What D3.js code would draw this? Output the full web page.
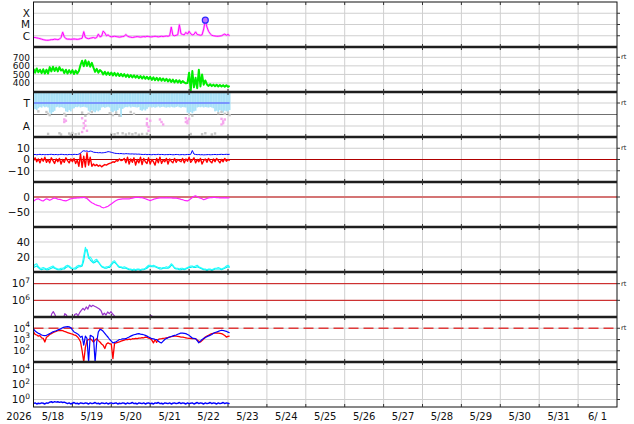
<!DOCTYPE html>
<html><head><meta charset="utf-8">
<script src="https://cdn.jsdelivr.net/npm/d3@7"></script>
<style>
body{margin:0;background:#fff}
svg{display:block}
text{font-family:'DejaVu Sans',sans-serif;fill:#111}
</style></head>
<body><svg id="c" width="634" height="424"></svg>
<script>
// ---------------- DATA (hourly samples from 2026-05-18 00:00 to 05-23 01:00) ----------------
const xrayFlux = [7e-7,7e-7,6.5e-7,6e-7,5.5e-7,5e-7,
 4.5e-7,4.2e-7,4e-7,4e-7,4.2e-7,4.5e-7,4.5e-7,5e-7,4.8e-7,4.5e-7,5e-7,7e-7,
 2.1e-6,8e-7,
 5.5e-7,5e-7,5e-7,4.8e-7,5e-7,5.2e-7,5e-7,4.8e-7,5e-7,5.5e-7,6e-7,
 2.3e-6,7e-7,
 6e-7,5.5e-7,6e-7,6.5e-7,7e-7,6e-7,7e-7,
 1.4e-6,8e-7,9e-7,2.6e-6,1.8e-6,1e-6,1.2e-6,9e-7,
 8e-7,8.5e-7,9e-7,8.5e-7,8e-7,7.5e-7,8e-7,8.5e-7,9e-7,
 1.3e-6,9e-7,
 8e-7,7.5e-7,7e-7,7.5e-7,8e-7,8.5e-7,8e-7,7.5e-7,8e-7,8.5e-7,8e-7,
 9e-7,8.5e-7,8e-7,8e-7,8.5e-7,9e-7,8.5e-7,8e-7,8.5e-7,9e-7,8.5e-7,9e-7,9.5e-7,9e-7,
 1e-6,5.9e-6,1.1e-6,1e-6,1.1e-6,1.2e-6,9.6e-6,1.5e-6,1.3e-6,1.2e-6,2e-6,1.4e-6,2.5e-6,1.5e-6,1.2e-6,1.3e-6,
 2.2e-6,1.3e-6,1.2e-6,1.1e-6,1.2e-6,4e-6,2.4e-5,6e-6,2.5e-6,1.5e-6,1.1e-6,1e-6,9.5e-7,9e-7,9e-7,9.5e-7,
 1e-6,1.2e-6,1.4e-6,1.1e-6,1.3e-6,1e-6];

const windSpeed = [565,520,570,525,555,515,560,510,555,510,
 585,535,590,540,580,535,585,545,
 560,515,555,510,550,515,550,505,545,510,540,
 610,660,595,
 665,600,650,590,635,
 580,530,565,520,550,
 535,500,532,496,524,494,
 522,488,518,484,514,481,508,478,
 503,472,498,467,493,465,489,462,485,457,
 481,452,478,449,473,445,
 471,437,465,432,461,429,458,427,453,425,449,419,
 443,412,439,407,435,405,431,402,422,
 407,396,
 400,520,310,540,350,460,340,555,360,500,380,430,
 383,366,385,364,381,362,379,360,377,359,375,356,373,355,366];

// IMF sector panel: lower edge of the dense phi band (deg), hourly
const phiLow = [220,225,215,230, 240,235,245,238,242,236, 195,185,200,210, 238,242,235,240,236,230,
 205,200,215,205,225,230, 240,238,244,236,240,242,238,235, 210,200,215,205,198,212,205,215,
 236,240,234,238,242,236, 205,198,210,202,215, 230,160,225,235, 240,238,244,236,242,240,238,236,240,
 215,210,220,212,225,
 238,242,236,240,235,238,244,236,240,242,238,235,240,236,242,238,236,240,244,238,235,240,238,236,
 195,185,200,190,205,210, 236,240,238,242,236,240,238,235,240,236,230,
 205,210,200,215,205,195,210,205,200,215];
const phiGrayPts = [[9,25],[16,30],[17,20],[22,28],[23,18],[24,32],[26,22],[28,26],[48,24],[55,30],[57,20],
 [59,28],[61,22],[63,30],[65,18],[70,26],[97,24],[106,30],[110,20],[112,28],[50,22],[52,30],[67,24],[104,22],
 [8,200],[9,185],[10,175],[19,185],[20,170],[30,195],[32,170],[34,185],[36,200],[47,190],[49,175],
 [51,195],[60,200],[62,185],[96,180],[98,170],[114,190],[116,200],[118,185],[120,195],[121,175],[3,205],[53,170]];
const phiPinkPts = [[19,140],[19,120],[20,130],[30,150],[31,110],[31,70],[32,130],[32,90],[33,50],[30,40],
 [70,145],[70,110],[71,80],[71,50],[72,130],[70,95],[78,140],[79,120],[80,100],[94,150],[95,130],[95,110],
 [96,145],[94,120],[116,145],[117,125],[117,110],[118,140],[116,100]];

const bt = [4.3,4.5,4.2,4.4,4.6,4.3,4.5,4.2,4.4,4.3,4.5,4.6,4.4,4.3,4.5,4.2,4.4,4.6,4.5,4.3,4.4,4.2,4.5,4.4,4.3,4.6,4.5,4.4,
 4.8,5.5, 7.2,7.8,7.4,7.6,7.0,7.5,7.2, 6.5,6.3,6.2,6.0,6.1,5.9,6.0,6.2,6.5, 7.0,6.8,6.4,6.0,5.6,
 5.4,5.3,5.2,5.3,5.1,5.0,5.2,5.1,5.0,4.9,5.0,4.8,4.9,4.7,4.8,4.6,
 4.5,4.4,4.6,4.3,4.5,4.4,4.2,4.5,4.3,4.4,4.6,4.3,4.5,4.4,4.2,4.4,4.3,4.5,4.4,4.2,4.3,4.5,4.4,4.2,4.3,4.4,4.2,4.3,4.5,4.4,4.6,
 8.0,
 4.8,4.5,4.3,4.4,4.2,4.3,4.1,4.2,4.3,4.4,4.2,4.3,4.4,4.5,4.3,4.4,4.5,4.6,4.4,4.5,4.6,4.5,4.6];
const bz = [-1,1.5,-2,0.5,-3,1,-1.5,2,-2.5,0,-3,1.5,-1,-3.5,0.5,-2,1,-4,0,-2.5,1.5,-1,-3,0.5,-2,1,-3.5,-0.5,
 -6,5,-7,3,-6.5,6,-5,2,-6,
 -4,-5.5,-4.5,-6,-5,-6.5,-5.5,-4.5,-5,-4,-3.5,
 -3,-2,-2.5,-1,-1.5,0.5,-1,-0.5,
 1,-3,2,-4,0.5,-2.5,1.5,-5,0,-3,2,-4.5,1,-2,-3.5,1.5,-4,0,-2,-5,1,-3,2,-3.5,-0.5,-2,1,-4,0.5,-1.5,-3,1,-2.5,0,-1,
 -2,1,-3,0.5,-1.5,2,-2.5,-0.5,1.5,-3,0,-2,1,-4,-1,0.5,-2.5,1,-1.5,-3,0.5,-2,1,-1,-3,0,-2,1,-1.5,0,-1];

const dst = [-14,-10,-7,-6,-9,-12,-13,-9,-6,-8,-11,-8,-5,-3,-5,-7,-8,-9,-11,-12,-13,-11,-8,-6,-5,-4,-4,-3,-3,-2,
 -2,-1,-3,-5,-10,-15,-19,-22,-25,-27,-29,-30,-34,-36,-35,-33,-31,-27,-23,-19,-15,-12,-9,-8,-7,-6,-6,-6,-6,-6,
 -5,-4,-2,-1,-1,-1,-2,-2,-4,-6,-8,-10,-12,-10,-8,-6,-5,-4,-3,-3,-3,-3,-2,-3,-3,-3,-4,-4,-4,-5,
 -6,-8,-9,-11,-12,-13,-10,-6,-2,2,4,1,-2,-4,-6,-9,-7,-5,-3,-2,-2,-1,-1,-2,-2,-3,-3,-3,-2,-3,-3,-2];

const densA = [8,10,11,7,5,5,6,5,4,5,6,7,8,6,5,4,4,5,5,6,8,9,8,6,5,5,6,8,9,8,10,22,33,27,18,20,17,13,16,17,
 14,11,8,7,6,7,7,8,11,14,15,12,9,7,7,6,7,6,5,4,4,3,4,3,4,4,3,4,4,5,7,9,9,8,9,8,7,6,6,5,
 6,6,7,6,8,11,9,6,5,5,4,5,5,4,5,6,7,8,8,7,8,9,7,6,5,4,4,3,4,4,3,4,5,5,6,5,4,5,6,8,9,7];
const densB = [6,7,8,6,4,3,4,4,3,3,4,5,6,5,4,3,3,3,4,4,6,7,7,5,4,4,4,6,7,7,8,15,29,30,21,16,14,12,13,15,
 13,10,7,6,5,5,6,6,9,12,13,11,8,6,6,5,5,5,4,3,3,2,3,2,3,3,2,3,3,4,5,7,8,7,7,7,6,5,4,4,
 5,5,5,5,6,9,8,5,4,4,3,3,4,3,4,5,6,6,7,6,6,7,6,5,4,3,3,2,3,3,2,3,4,4,4,4,3,4,5,6,7,6];

// log10 of particle fluxes
const fluxP7log = [4.7,4.7,4.7,4.7,4.7,4.7,4.7,4.7,4.7,4.7,4.7,
 5.18,5.32,5.15,4.85,4.8,4.8,4.8,4.85,5.2,5.12,4.85,4.8,4.8,4.85,5.15,5.2,5.08,5.26,5.4,5.52,5.42,5.6,5.48,5.72,5.62,5.7,5.65,5.6,5.54,5.48,
 5.38,5.12,5.23,5.12,5.3,5.2,5.32,5.18,5.08,4.9,
 4.8,4.8,4.8,4.8,4.8,4.8,4.8,4.8,4.8,4.8,4.8,4.8,4.8,4.8,4.8,4.8,4.8,4.8,4.8,4.8,
 5.1,5.05,4.85,4.8,4.8,4.8,4.8,4.8,4.8,4.8,4.8,4.8,4.8,4.8,4.8,4.8,4.8,4.8,4.8,4.8,4.8,4.8,4.8,4.8,4.8,4.8,4.8,4.8,4.8,
 5.02,4.85,4.8,4.8,4.8,4.8,4.8,4.8,4.8,4.8,4.8,4.8,4.8,4.8,4.8,4.8,4.8,4.8,4.8,4.8];
const fluxBlueLog = [3.95,3.75,3.65,3.55,3.5,3.4,3.37,3.35,3.37,3.45,3.52,3.6,3.68,3.73,3.78,3.85,3.9,3.97,4.05,4.1,
 4.13,4.15,4.12,4.05,3.85,3.67,3.6,3.52,3.4,3.2,3.3,2.5,3.3,3.1,1.0,3.37,3.3,3.2,1.0,2.78,
 3.67,3.9,3.85,3.73,3.55,3.37,3.2,3.0,2.85,2.7,2.75,2.8,2.9,3.0,3.02,3.05,3.05,3.07,3.15,3.22,
 3.3,3.37,3.42,3.45,3.5,3.52,3.48,3.45,3.42,3.37,3.3,3.22,3.15,3.07,3.05,3.02,3.0,2.85,2.75,2.7,
 2.85,3.0,3.1,3.15,3.22,3.27,3.32,3.37,3.4,3.47,3.52,3.58,3.57,3.55,3.52,3.45,3.37,3.25,3.13,3.1,
 3.07,2.9,2.7,2.85,3.0,3.1,3.17,3.25,3.32,3.37,3.45,3.55,3.62,3.67,3.72,3.78,3.82,3.8,3.76,3.73,3.65,3.6];
const fluxRedLog = [3.67,3.45,3.4,3.3,3.35,3.15,3.1,2.78,3.2,3.3,3.45,3.52,3.6,3.68,3.73,3.78,3.8,3.82,3.78,3.72,
 3.67,3.62,3.57,3.52,3.48,3.42,3.37,3.25,3.07,2.8,2.0,1.0,2.3,2.9,3.0,3.07,2.95,2.78,2.95,3.07,
 2.9,2.78,2.6,2.48,2.2,2.6,2.7,2.62,2.6,1.3,2.65,2.7,2.75,2.78,2.85,2.9,2.95,3.0,2.98,3.03,
 3.0,3.07,3.05,3.1,3.08,3.13,3.12,3.16,3.15,3.22,3.18,3.12,3.07,2.95,2.7,3.0,2.75,3.02,3.05,3.07,
 3.1,3.12,3.15,3.18,3.22,3.25,3.27,3.3,3.3,3.28,3.25,3.22,3.22,3.18,3.15,3.12,3.1,3.1,3.08,3.07,
 3.07,2.95,2.85,2.78,2.9,3.05,3.22,3.3,3.38,3.45,3.52,3.55,3.58,3.58,3.57,3.55,3.52,3.45,3.35,3.22,3.28,3.3];
const fluxP9log = [-0.55,-0.45,-0.6,-0.5,-0.55,-0.45,-0.5,-0.6,-0.45,-0.5,
 -0.35,-0.3,-0.4,-0.28,-0.35,-0.3,-0.38,-0.32,-0.4,-0.35,-0.45,
 -0.55,-0.45,-0.6,-0.5,-0.4,-0.55,-0.5,-0.6,-0.45,-0.5,
 -0.55,-0.45,-0.5,-0.6,-0.45,-0.55,-0.5,-0.4,-0.55,-0.5,
 -0.6,-0.45,-0.5,-0.55,-0.45,-0.6,-0.5,-0.45,-0.55,-0.5,
 -0.45,-0.6,-0.5,-0.55,-0.45,-0.5,-0.6,-0.45,-0.55,-0.5,
 -0.4,-0.55,-0.5,-0.6,-0.45,-0.5,-0.55,-0.45,-0.6,-0.5,
 -0.45,-0.55,-0.5,-0.6,-0.45,-0.5,-0.4,-0.55,-0.5,-0.6,
 -0.45,-0.5,-0.55,-0.45,-0.6,-0.5,-0.45,-0.55,-0.5,-0.4,
 -0.55,-0.45,-0.5,-0.6,-0.45,-0.55,-0.5,-0.45,-0.6,-0.5,
 -0.4,-0.55,-0.45,-0.5,-0.6,-0.45,-0.55,-0.5,-0.4,-0.55,
 -0.45,-0.5,-0.6,-0.45,-0.55,-0.5,-0.4,-0.55,-0.45,-0.5,-0.55];

const dayLabels = ['5/18','5/19','5/20','5/21','5/22','5/23','5/24','5/25','5/26','5/27','5/28','5/29','5/30','5/31','6/ 1'];
const yearLabel = '2026';

// ---------------- LAYOUT ----------------
const svg = d3.select('#c');
const L = 33.5, R = 617, TOP = 2, PH = 45;
const t0 = new Date(2026,4,18,0,0), tEnd = new Date(2026,4,23,1,0);
const x = d3.scaleTime().domain([new Date(2026,4,18), new Date(2026,5,2)]).range([L, R]);
const tms = n => d3.range(n).map(i => new Date(+t0 + i*(tEnd - t0)/(n-1)));
const th = h => new Date(+t0 + h*3600e3);
const pTop = i => TOP + PH*i, pBot = i => TOP + PH*(i+1);

const P = [
 {y: d3.scaleLog().domain([1e-7,1e-3]).range([pBot(0),pTop(0)]), ticks:[[1e-4,'X'],[1e-5,'M'],[1e-6,'C']]},
 {y: d3.scaleLinear().domain([295,820]).range([pBot(1),pTop(1)]), ticks:[[700,'700'],[600,'600'],[500,'500'],[400,'400']], rt:700, fs:9},
 {y: d3.scaleLinear().domain([0,360]).range([pBot(2),pTop(2)]), ticks:[[272,'T'],[88,'A']], rt:272},
 {y: d3.scaleLinear().domain([-20,20]).range([pBot(3),pTop(3)]), ticks:[[10,'10'],[0,'0'],[-10,'\u221210']], rt:10},
 {y: d3.scaleLinear().domain([-100,50]).range([pBot(4),pTop(4)]), ticks:[[0,'0'],[-50,'\u221250']]},
 {y: d3.scaleLinear().domain([0,60]).range([pBot(5),pTop(5)]), ticks:[[40,'40'],[20,'20']]},
 {y: d3.scaleLinear().domain([5,7.7]).range([pBot(6),pTop(6)]), ticks:[[7,'e7'],[6,'e6']], rt:7},
 {y: d3.scaleLinear().domain([1,5]).range([pBot(7),pTop(7)]), ticks:[[4,'e4'],[3,'e3'],[2,'e2']], rt:4, fs:9.5},
 {y: d3.scaleLinear().domain([-1,5]).range([pBot(8),pTop(8)]), ticks:[[4,'e4'],[2,'e2'],[0,'e0']]}
];

// clip paths
const defs = svg.append('defs');
P.forEach((p,i)=>{
  defs.append('clipPath').attr('id','cp'+i).append('rect')
    .attr('x',L).attr('y',pTop(i)).attr('width',R-L).attr('height',PH);
});

// vertical grid
const days = d3.timeDay.range(new Date(2026,4,19), new Date(2026,5,2));
svg.append('g').selectAll('line').data(days).join('line')
  .attr('x1',d=>x(d)).attr('x2',d=>x(d)).attr('y1',TOP).attr('y2',pBot(8))
  .attr('stroke','#cfcfcf').attr('stroke-width',1);

// horizontal grid
P.forEach((p,i)=>{
  const g = svg.append('g');
  p.ticks.forEach(([v])=>{
    g.append('line').attr('x1',L).attr('x2',R).attr('y1',p.y(v)).attr('y2',p.y(v))
      .attr('stroke','#cfcfcf').attr('stroke-width',1);
  });
});

// special reference lines
const hline = (i,v,col,w,dash)=>svg.append('line').attr('x1',L).attr('x2',R)
  .attr('y1',P[i].y(v)).attr('y2',P[i].y(v)).attr('stroke',col).attr('stroke-width',w)
  .attr('stroke-dasharray',dash||null);
hline(2,180,'#707070',1);
hline(3,0,'#b00000',1);
hline(4,0,'#d47474',2);
hline(6,7,'#cc1111',1);
hline(6,6,'#cc1111',1);
hline(7,4,'#e03a3a',1.5,'10,5');

// helper for lines
function drawLine(i, vals, col, w, op){
  const ts = tms(vals.length);
  const data = vals.map((v,k)=>[ts[k],v]);
  svg.append('path').datum(data).attr('clip-path',`url(#cp${i})`)
    .attr('fill','none').attr('stroke',col).attr('stroke-width',w).attr('stroke-linejoin','round')
    .attr('stroke-opacity',op||1)
    .attr('d', d3.line().x(d=>x(d[0])).y(d=>P[i].y(d[1])));
}

// Panel 1: X-ray
drawLine(0, xrayFlux, '#ff88ff', 2.2, 0.6);
drawLine(0, xrayFlux, '#ff00ff', 1);
{
  const ts = tms(xrayFlux.length);
  const k = d3.maxIndex(xrayFlux);
  svg.append('circle').attr('cx',x(ts[k])).attr('cy',P[0].y(xrayFlux[k])).attr('r',3)
    .attr('fill','#c070ff').attr('stroke','#2a2aff').attr('stroke-width',1.2);
}
// Panel 2: speed
drawLine(1, windSpeed, '#00ee00', 2);

// Panel 3: IMF sector
{
  const ts = tms(phiLow.length);
  const g = svg.append('g').attr('clip-path','url(#cp2)');
  g.selectAll('rect.b').data(phiLow).join('rect')
    .attr('x',(d,k)=>x(ts[k])-0.9).attr('width',1.8)
    .attr('y',P[2].y(360)).attr('height',d=>P[2].y(d)-P[2].y(360))
    .attr('fill','#a9e2f8');
  g.selectAll('rect.g').data(phiGrayPts).join('rect')
    .attr('x',d=>x(th(d[0]))-1.2).attr('y',d=>P[2].y(d[1])-1.2).attr('width',2.4).attr('height',2.4)
    .attr('fill','#c6c6c6');
  g.selectAll('rect.p').data(phiPinkPts).join('rect')
    .attr('x',d=>x(th(d[0]))-1.2).attr('y',d=>P[2].y(d[1])-1.2).attr('width',2.4).attr('height',2.4)
    .attr('fill','#f6a6ee');
  g.append('line').attr('x1',x(t0)).attr('x2',x(tEnd)).attr('y1',P[2].y(272)).attr('y2',P[2].y(272))
    .attr('stroke','#6a7bff').attr('stroke-width',1.5);
}
// Panel 4: Bt / Bz
drawLine(3, bz, '#ff0000', 1.4);
drawLine(3, bt, '#0000ff', 1);
// Panel 5: Dst
drawLine(4, dst, '#ff22ff', 1.2);
// Panel 6: two cyan lines
drawLine(5, densB, '#00eeee', 1.1);
drawLine(5, densA, '#22ffff', 1.1);
// Panel 7
drawLine(6, fluxP7log, '#9933cc', 1.2);
// Panel 8
drawLine(7, fluxRedLog, '#ff0000', 1.3);
drawLine(7, fluxBlueLog, '#0000ff', 1.2);
// Panel 9
drawLine(8, fluxP9log, '#0000ff', 1.4);

// frame & separators
svg.append('rect').attr('x',L).attr('y',TOP).attr('width',R-L).attr('height',PH*9)
  .attr('fill','none').attr('stroke','#111').attr('stroke-width',1);
for(let i=1;i<9;i++){
  svg.append('line').attr('x1',L).attr('x2',R).attr('y1',pTop(i)).attr('y2',pTop(i))
    .attr('stroke','#1e1e1e').attr('stroke-width',2.6);
}
// small day ticks at top/bottom of panels, and right-side y ticks
P.forEach((p,i)=>{
  days.forEach(d=>{
    svg.append('line').attr('x1',x(d)).attr('x2',x(d)).attr('y1',pBot(i)).attr('y2',pBot(i)-3).attr('stroke','#333');
    svg.append('line').attr('x1',x(d)).attr('x2',x(d)).attr('y1',pTop(i)).attr('y2',pTop(i)+3).attr('stroke','#333');
  });
  p.ticks.forEach(([v])=>{
    svg.append('line').attr('x1',R).attr('x2',R+3).attr('y1',p.y(v)).attr('y2',p.y(v)).attr('stroke','#333');
  });
});

// y labels
P.forEach((p,i)=>{
  const fs = p.fs || 10.5;
  p.ticks.forEach(([v,lab])=>{
    const t = svg.append('text').attr('x',30).attr('y',p.y(v)+fs*0.36).attr('text-anchor','end')
      .attr('font-size',fs);
    if(lab.startsWith('e')){
      t.append('tspan').text('10');
      t.append('tspan').attr('dy',-4.5).attr('font-size',7.5).text(lab.slice(1));
    } else t.text(lab);
  });
  if(p.rt!==undefined){
    svg.append('text').attr('x',621).attr('y',p.y(p.rt)+2).attr('font-size',6.5)
      .attr('fill','#444').text('rt');
  }
});

// x labels
svg.append('text').attr('x',19).attr('y',420).attr('text-anchor','middle').attr('font-size',10).text(yearLabel);
dayLabels.forEach((lab,k)=>{
  const c = new Date(2026,4,18+k,12);
  svg.append('text').attr('x',x(c)).attr('y',420).attr('text-anchor','middle')
    .attr('font-size',10).attr('xml:space','preserve').style('white-space','pre').text(lab);
});
</script></body></html>
